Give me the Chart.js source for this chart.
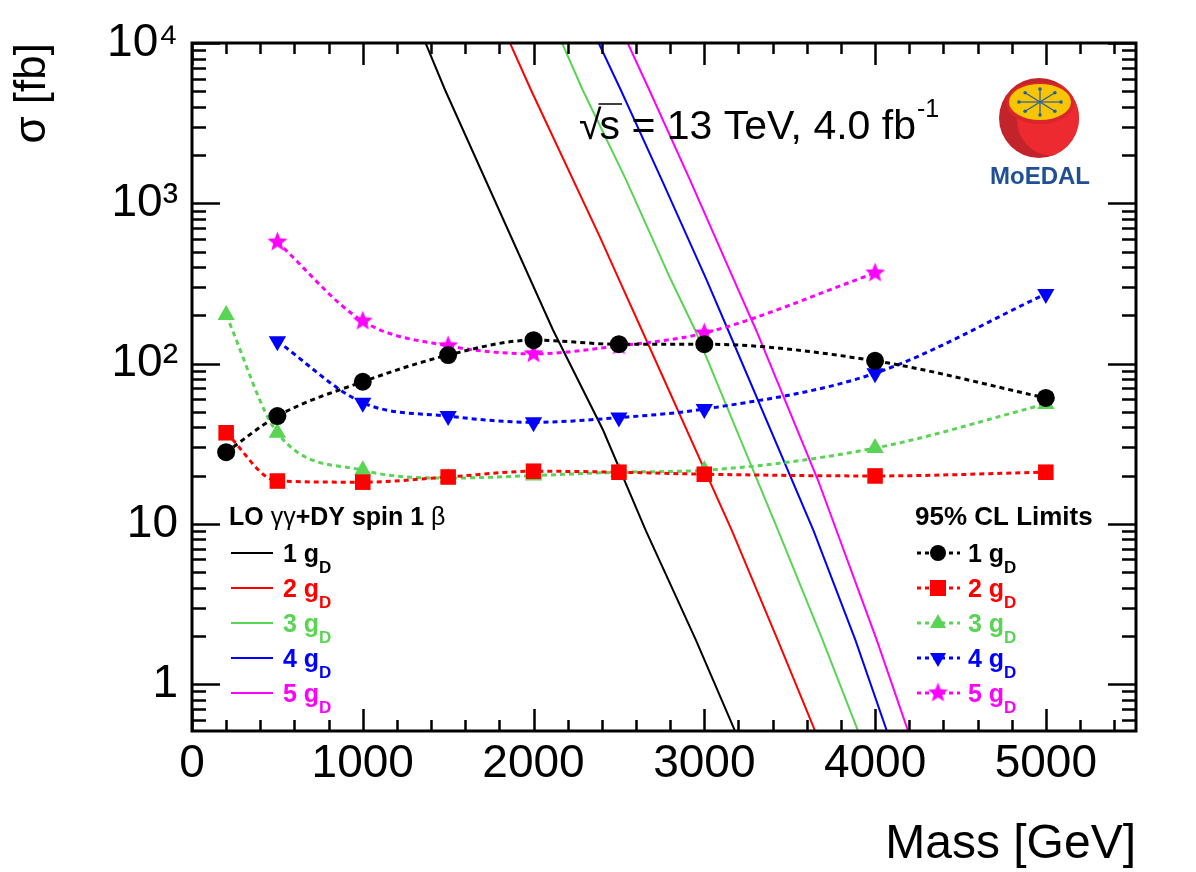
<!DOCTYPE html>
<html>
<head>
<meta charset="utf-8">
<script src="https://cdn.jsdelivr.net/npm/chart.js@4.4.0/dist/chart.umd.min.js"></script>
<style>
html, body { margin: 0; padding: 0; background: #fff; }
</style>
</head>
<body>
<canvas id="xsecChart" width="1196" height="872"></canvas>
<script>
// 95% CL limits (fb) at each mass point
var massPoints = [200, 500, 1000, 1500, 2000, 2500, 3000, 4000, 5000];
var limit1 = [28, 47, 77, 113, 140, 132, 132, 104, 61];
var limit2 = [37, 18.5, 18.2, 19.6, 21.3, 21, 20.4, 19.9, 21];
var limit3 = [201, 37, 21.6, 19.3, 20, 21, 21.6, 29.7, 56];
var limit4 = [null, 138, 57, 47, 43, 46, 52, 87, 272];
var limit5 = [null, 573, 184, 129, 115, 129, 155, 367, null];

// LO gamma-gamma + DY cross sections
var theoryMass1 = [1312, 1482, 2114, 2407, 2657, 2951, 3227];
var theoryXsec1 = [13900, 5090, 162, 38.5, 9.1, 1.88, 0.39];
var theoryMass2 = [1802, 1985, 2389, 2502, 2634, 3161, 3430, 3694];
var theoryXsec2 = [13900, 5090, 615, 332, 162, 9.1, 1.88, 0.39];
var theoryMass3 = [2108, 2288, 2542, 2805, 2946, 3432, 3693, 3943];
var theoryXsec3 = [13900, 5090, 1400, 332, 162, 9.1, 1.88, 0.39];
var theoryMass4 = [2318, 2511, 2751, 3014, 3139, 3639, 3885, 4107];
var theoryXsec4 = [13900, 5090, 1400, 332, 162, 9.1, 1.88, 0.39];
var theoryMass5 = [2489, 2678, 2916, 3174, 3303, 3666, 4010, 4231];
var theoryXsec5 = [13900, 5090, 1400, 332, 162, 18.7, 1.88, 0.39];

var xTickValues = [0, 1000, 2000, 3000, 4000, 5000];
var yTickValues = [1, 10, 100, 1000, 10000];
var yTickLabels = ['1', '10', '10\u00B2', '10\u00B3', '10\u2074'];
var gdLabels = ['1', '2', '3', '4', '5'];

var colors = ['#000000', '#ff0000', '#59d454', '#0000ff', '#ff00ff'];
var FONT = '"Liberation Sans", Arial, Helvetica, sans-serif';

function toPoints(xs, ys) {
    var pts = [];
    for (var i = 0; i < xs.length; i++) {
        if (ys[i] !== null) pts.push({ x: xs[i], y: ys[i] });
    }
    return pts;
}

function makeStar(color, rOut, rIn) {
    var c = document.createElement('canvas');
    var s = Math.ceil(rOut * 2 + 2);
    c.width = s; c.height = s;
    var g = c.getContext('2d');
    g.fillStyle = color;
    g.beginPath();
    for (var i = 0; i < 10; i++) {
        var r = i % 2 === 0 ? rOut : rIn;
        var a = -Math.PI / 2 + i * Math.PI / 5;
        var px = s / 2 + r * Math.cos(a), py = s / 2 + r * Math.sin(a);
        if (i === 0) g.moveTo(px, py); else g.lineTo(px, py);
    }
    g.closePath();
    g.fill();
    return c;
}
var starImg = makeStar(colors[4], 10.5, 4.5);

var markerStyles = ['circle', 'rect', 'triangle', 'triangle', starImg];
var markerRadius = [9, 11, 10, 10, 10];
var markerRotation = [0, 0, 0, 180, 0];

function drawMarker(ctx, i, x, y) {
    ctx.fillStyle = colors[i];
    ctx.beginPath();
    if (i === 0) {
        ctx.arc(x, y, 8, 0, Math.PI * 2);
        ctx.fill();
    } else if (i === 1) {
        ctx.fillRect(x - 8, y - 8, 16, 16);
    } else if (i === 2) {
        ctx.moveTo(x, y - 9); ctx.lineTo(x + 8, y + 5); ctx.lineTo(x - 8, y + 5);
        ctx.closePath(); ctx.fill();
    } else if (i === 3) {
        ctx.moveTo(x, y + 9); ctx.lineTo(x + 8, y - 5); ctx.lineTo(x - 8, y - 5);
        ctx.closePath(); ctx.fill();
    } else {
        ctx.drawImage(starImg, x - starImg.width / 2, y - starImg.height / 2);
    }
}

function drawGD(ctx, num, x, y, color) {
    ctx.fillStyle = color;
    ctx.textAlign = 'left';
    ctx.textBaseline = 'alphabetic';
    ctx.font = 'bold 25px ' + FONT;
    var t = num + ' g';
    ctx.fillText(t, x, y);
    var w = ctx.measureText(t).width;
    ctx.font = 'bold 17px ' + FONT;
    ctx.fillText('D', x + w, y + 11);
}

// ROOT-like frame with inner ticks on all four sides
var frameTicks = {
    id: 'frameTicks',
    afterDatasetsDraw: function(chart) {
        var ctx = chart.ctx, a = chart.chartArea;
        var xs = chart.scales.x, ys = chart.scales.y;
        ctx.save();
        ctx.strokeStyle = '#000';
        ctx.lineWidth = 2.5;
        ctx.beginPath();
        for (var m = 0; m <= xs.max; m += 200) {
            var px = Math.round(xs.getPixelForValue(m)) + 0.5;
            var len = (m % 1000 === 0) ? 22 : 11;
            ctx.moveTo(px, a.bottom); ctx.lineTo(px, a.bottom - len);
            ctx.moveTo(px, a.top); ctx.lineTo(px, a.top + len);
        }
        for (var d = -1; d <= 4; d++) {
            for (var k = 1; k <= 9; k++) {
                var v = k * Math.pow(10, d);
                if (v < ys.min || v > ys.max) continue;
                var py = Math.round(ys.getPixelForValue(v)) + 0.5;
                var ln = k === 1 ? 28 : 14;
                ctx.moveTo(a.left, py); ctx.lineTo(a.left + ln, py);
                ctx.moveTo(a.right, py); ctx.lineTo(a.right - ln, py);
            }
        }
        ctx.stroke();
        ctx.lineWidth = 3;
        ctx.strokeRect(a.left, a.top, a.right - a.left, a.bottom - a.top);
        ctx.restore();
    }
};

// legends, energy label and logo
var decorations = {
    id: 'decorations',
    afterDraw: function(chart) {
        var ctx = chart.ctx;
        ctx.save();
        var i, y;

        // left legend: LO curves
        ctx.fillStyle = '#000';
        ctx.textBaseline = 'alphabetic';
        ctx.textAlign = 'left';
        var tx = 229, ty = 525;
        var parts = [['LO ', 'bold'], ['\u03B3\u03B3', 'normal'], ['+DY spin 1 ', 'bold'], ['\u03B2', 'normal']];
        for (i = 0; i < parts.length; i++) {
            ctx.font = parts[i][1] + ' 25px ' + FONT;
            ctx.fillText(parts[i][0], tx, ty);
            tx += ctx.measureText(parts[i][0]).width;
        }
        for (i = 0; i < 5; i++) {
            y = 553 + 35 * i;
            ctx.strokeStyle = colors[i];
            ctx.lineWidth = 2;
            ctx.setLineDash([]);
            ctx.beginPath(); ctx.moveTo(231, y); ctx.lineTo(273, y); ctx.stroke();
            drawGD(ctx, gdLabels[i], 283, y + 8.5, colors[i]);
        }

        // right legend: limits
        ctx.fillStyle = '#000';
        ctx.font = 'bold 26px ' + FONT;
        ctx.fillText('95% CL Limits', 915, 525);
        for (i = 0; i < 5; i++) {
            y = 553 + 35 * i;
            ctx.strokeStyle = colors[i];
            ctx.lineWidth = 3;
            ctx.setLineDash([4, 4]);
            ctx.beginPath(); ctx.moveTo(917, y); ctx.lineTo(960, y); ctx.stroke();
            ctx.setLineDash([]);
            drawMarker(ctx, i, 938, y);
            drawGD(ctx, gdLabels[i], 968, y + 8.5, colors[i]);
        }

        // sqrt(s) label
        ctx.fillStyle = '#000';
        ctx.font = '41px ' + FONT;
        ctx.fillText('\u221A', 579, 139);
        var sx = 579 + ctx.measureText('\u221A').width - 2;
        ctx.fillText('s = 13 TeV, 4.0 fb', sx, 139);
        var sw = ctx.measureText('s').width;
        var tw = ctx.measureText('s = 13 TeV, 4.0 fb').width;
        ctx.strokeStyle = '#000';
        ctx.lineWidth = 1.5;
        ctx.beginPath(); ctx.moveTo(sx - 1, 104); ctx.lineTo(sx + sw + 2, 104); ctx.stroke();
        ctx.font = '25px ' + FONT;
        ctx.fillText('-1', sx + tw + 1, 117);

        // MoEDAL logo
        var cx = 1039, cy = 118;
        ctx.beginPath(); ctx.arc(cx, cy, 40, 0, Math.PI * 2);
        ctx.fillStyle = '#c3242c'; ctx.fill();
        ctx.save();
        ctx.beginPath(); ctx.arc(cx, cy, 40, 0, Math.PI * 2); ctx.clip();
        ctx.beginPath(); ctx.arc(cx + 14, cy + 2, 36, 0, Math.PI * 2);
        ctx.fillStyle = '#ec2a30'; ctx.fill();
        ctx.restore();
        ctx.beginPath(); ctx.ellipse(cx + 1, cy - 15, 34, 21, 0, 0, Math.PI * 2);
        ctx.fillStyle = '#d8262b'; ctx.fill();
        ctx.beginPath(); ctx.ellipse(cx + 1, cy - 16, 31, 18, 0, 0, Math.PI * 2);
        ctx.fillStyle = '#f7c600'; ctx.fill();
        ctx.strokeStyle = '#2a5ba6';
        ctx.fillStyle = '#2a5ba6';
        ctx.lineWidth = 1.2;
        var ax = cx + 1, ay = cy - 16;
        for (i = 0; i < 8; i++) {
            var ang = i * Math.PI / 4;
            var ex = ax + Math.cos(ang) * 21 * (i % 4 === 2 ? 0.62 : 1);
            var ey = ay + Math.sin(ang) * 13;
            ctx.beginPath(); ctx.moveTo(ax, ay); ctx.lineTo(ex, ey); ctx.stroke();
            ctx.beginPath(); ctx.arc(ex, ey, 1.8, 0, Math.PI * 2); ctx.fill();
        }
        ctx.fillStyle = '#1f4f96';
        ctx.font = 'bold 24px ' + FONT;
        ctx.textAlign = 'center';
        ctx.fillText('MoEDAL', cx + 1, 184);
        ctx.restore();
    }
};

var datasets = [];
var limits = [limit1, limit2, limit3, limit4, limit5];
for (var i = 0; i < 5; i++) {
    datasets.push({
        label: gdLabels[i] + ' gD limit',
        data: toPoints(massPoints, limits[i]),
        borderColor: colors[i],
        backgroundColor: colors[i],
        borderWidth: 3,
        borderDash: [5, 4],
        cubicInterpolationMode: 'monotone',
        pointStyle: markerStyles[i],
        pointRadius: markerRadius[i],
        pointRotation: markerRotation[i],
        pointBorderWidth: 0,
        pointBackgroundColor: colors[i],
        pointBorderColor: colors[i]
    });
}
var theoryMass = [theoryMass1, theoryMass2, theoryMass3, theoryMass4, theoryMass5];
var theoryXsec = [theoryXsec1, theoryXsec2, theoryXsec3, theoryXsec4, theoryXsec5];
for (var j = 0; j < 5; j++) {
    datasets.push({
        label: gdLabels[j] + ' gD LO',
        data: toPoints(theoryMass[j], theoryXsec[j]),
        borderColor: colors[j],
        borderWidth: 2,
        tension: 0,
        pointRadius: 0,
        clip: 0
    });
}

var ctx = document.getElementById('xsecChart').getContext('2d');
var xsecChart = new Chart(ctx, {
    type: 'line',
    data: { datasets: datasets },
    plugins: [frameTicks, decorations],
    options: {
        responsive: false,
        animation: false,
        events: [],
        layout: { padding: { top: 43, right: 60, left: 0, bottom: 0 } },
        plugins: { legend: { display: false }, tooltip: { enabled: false } },
        scales: {
            x: {
                type: 'linear',
                min: 0,
                max: 5528,
                grid: { display: false, drawTicks: false },
                border: { display: false },
                afterBuildTicks: function(s) {
                    s.ticks = xTickValues.map(function(v) { return { value: v }; });
                },
                ticks: {
                    autoSkip: false,
                    maxRotation: 0,
                    padding: 6,
                    color: '#000',
                    font: { family: FONT, size: 46 },
                    callback: function(value) { return String(value); }
                },
                title: {
                    display: true,
                    text: 'Mass [GeV]',
                    align: 'end',
                    color: '#000',
                    font: { family: FONT, size: 48 },
                    padding: { top: 0, bottom: -2 }
                },
                afterFit: function(s) { s.height = 141; }
            },
            y: {
                type: 'logarithmic',
                min: 0.51,
                max: 10000,
                grid: { display: false, drawTicks: false },
                border: { display: false },
                afterBuildTicks: function(s) {
                    s.ticks = yTickValues.map(function(v) { return { value: v }; });
                },
                ticks: {
                    autoSkip: false,
                    padding: 14,
                    color: '#000',
                    font: { family: FONT, size: 46 },
                    callback: function(value, index) { return yTickLabels[index]; }
                },
                title: {
                    display: true,
                    text: '\u03C3 [fb]',
                    align: 'end',
                    color: '#000',
                    font: { family: FONT, size: 44 },
                    padding: { top: 6, bottom: 0 }
                },
                afterFit: function(s) { s.width = 192; }
            }
        }
    }
});
</script>
</body>
</html>
